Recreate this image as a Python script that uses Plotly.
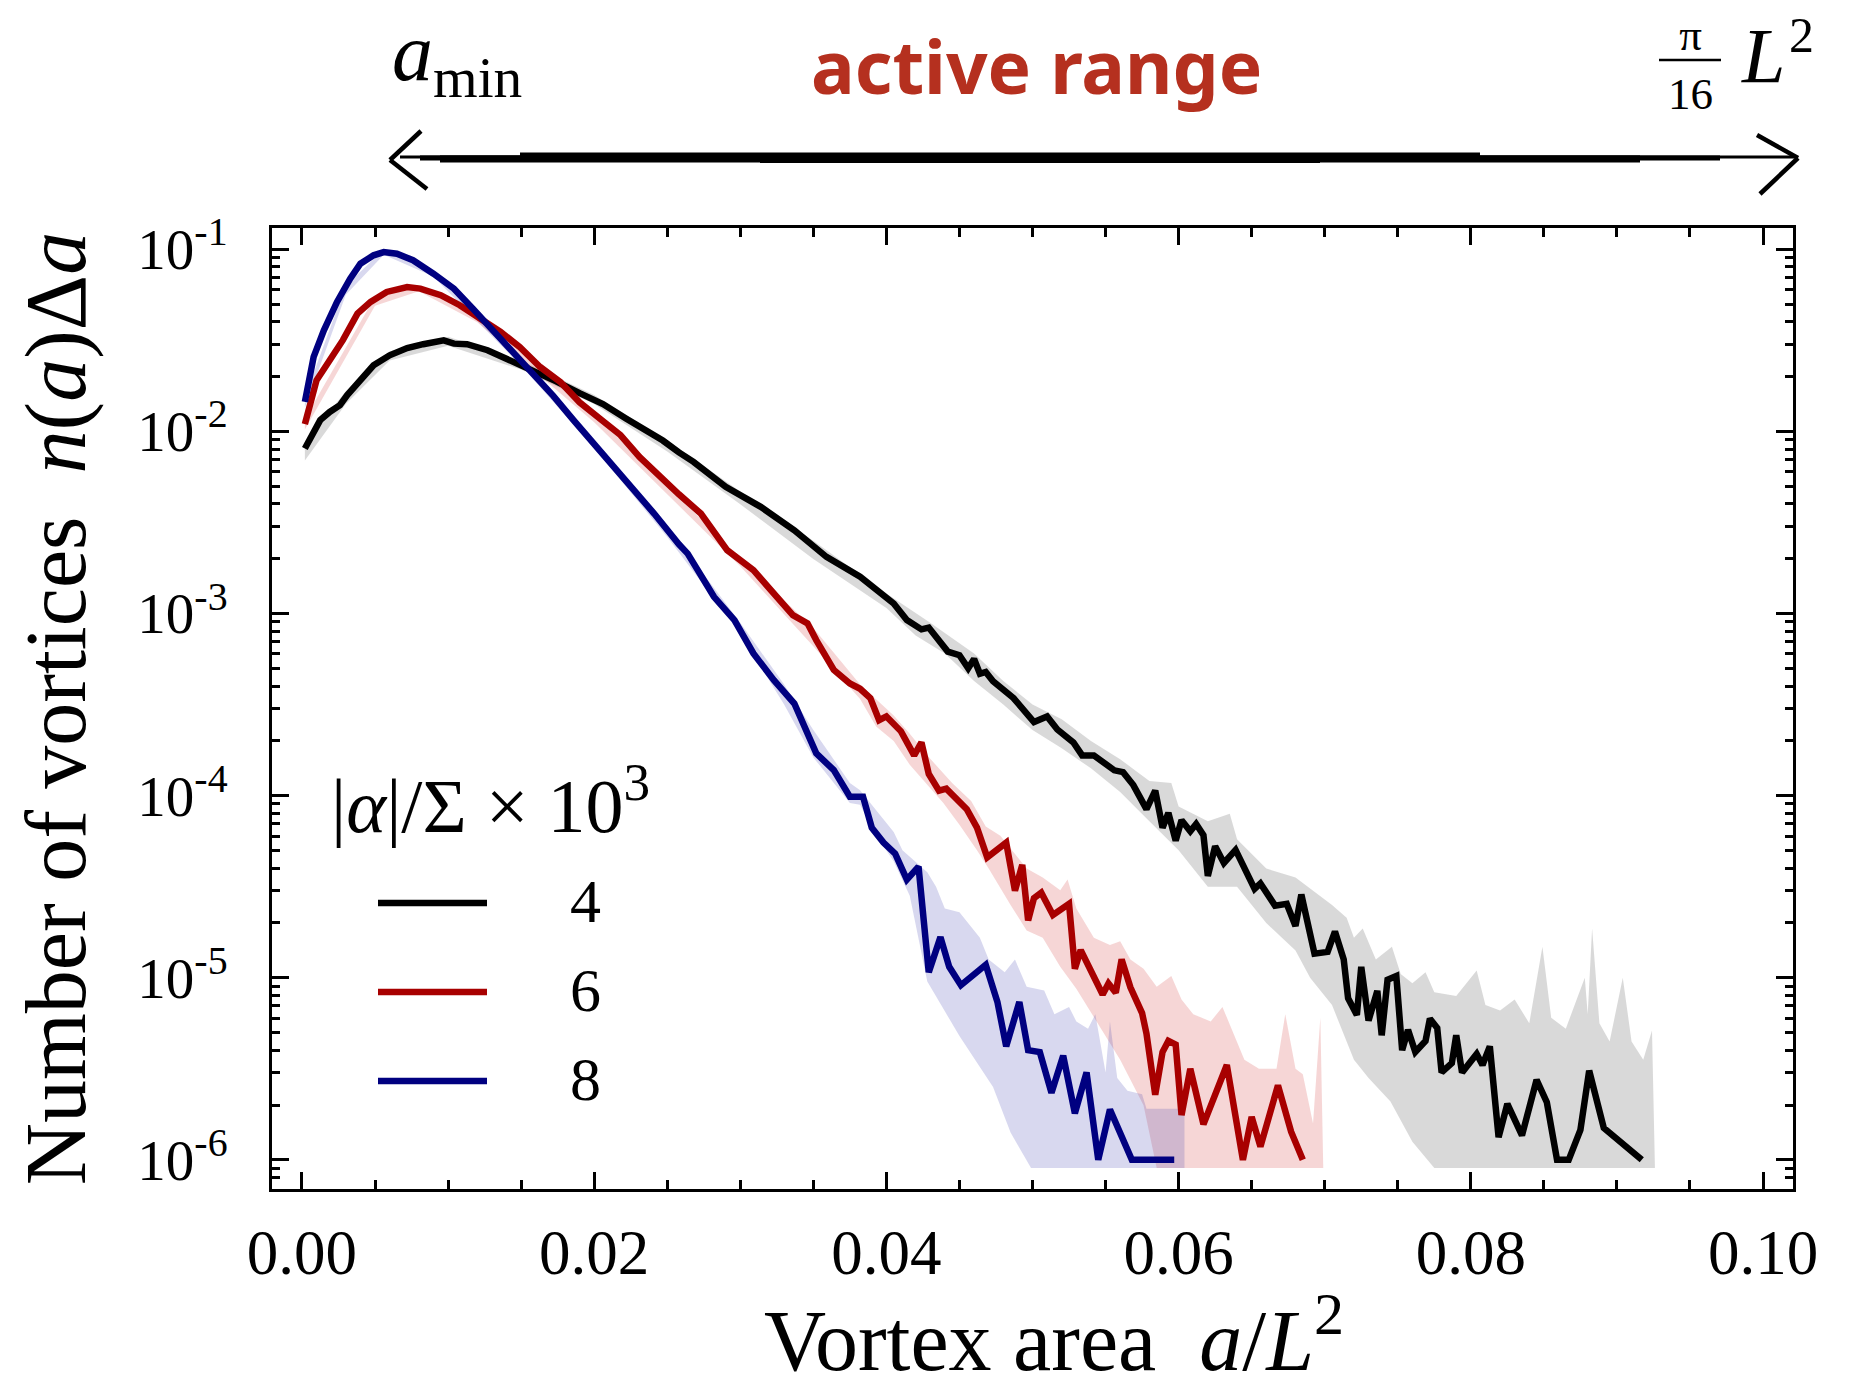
import plotly.graph_objects as go

# ---------------- data (x = a/L^2, values as log10 of n(a)Δa) ----------------
black_x = [0.0002, 0.0008, 0.00125, 0.0019, 0.0026, 0.0031, 0.004, 0.0049, 0.006, 0.0072, 0.0083, 0.0097,
           0.0104, 0.0113, 0.0127, 0.014, 0.0156, 0.0174, 0.019, 0.0206, 0.0222, 0.0236, 0.0247, 0.0258,
           0.0268, 0.029, 0.0314, 0.0337, 0.0359, 0.0382, 0.0405, 0.0414, 0.0424, 0.0429, 0.0442, 0.045,
           0.0456, 0.046, 0.0464, 0.0468, 0.0473, 0.0487, 0.0501, 0.051, 0.0517, 0.0528, 0.0534, 0.0542,
           0.0556, 0.0562, 0.0569, 0.0578, 0.0584, 0.0589, 0.0593, 0.0598, 0.0602, 0.0608, 0.0612, 0.0617,
           0.062, 0.0625, 0.0631, 0.0639, 0.0645, 0.0652, 0.0656, 0.0666, 0.0674, 0.068, 0.0684, 0.0693,
           0.0702, 0.0707, 0.0713, 0.0716, 0.0722, 0.0725, 0.073, 0.0736, 0.0739, 0.0743, 0.0749, 0.0753,
           0.0757, 0.0762, 0.0769, 0.0772, 0.0777, 0.078, 0.0787, 0.079, 0.0794, 0.0804, 0.0808, 0.0813,
           0.0819, 0.0825, 0.0835, 0.0841, 0.0845, 0.0852, 0.0859, 0.0867, 0.0875, 0.0881, 0.0891, 0.0917]
black_log10 = [-2.094, -2.012, -1.938, -1.893, -1.856, -1.80, -1.719, -1.637, -1.582, -1.542, -1.521, -1.500,
               -1.518, -1.521, -1.554, -1.600, -1.655, -1.725, -1.790, -1.850, -1.930, -1.995, -2.050, -2.115,
               -2.167, -2.304, -2.414, -2.543, -2.689, -2.798, -2.945, -3.036, -3.087, -3.077, -3.209, -3.229,
               -3.301, -3.250, -3.331, -3.321, -3.372, -3.464, -3.596, -3.565, -3.637, -3.708, -3.779, -3.779,
               -3.861, -3.871, -3.942, -4.074, -3.973, -4.176, -4.095, -4.247, -4.135, -4.196, -4.156, -4.217,
               -4.441, -4.278, -4.370, -4.298, -4.400, -4.512, -4.482, -4.604, -4.594, -4.716, -4.543, -4.868,
               -4.858, -4.746, -4.899, -5.113, -5.204, -4.940, -5.235, -5.072, -5.316, -5.011, -4.990, -5.398,
               -5.286, -5.408, -5.347, -5.225, -5.276, -5.520, -5.469, -5.316, -5.520, -5.418, -5.479, -5.377,
               -5.876, -5.693, -5.866, -5.683, -5.561, -5.683, -6.000, -6.000, -5.836, -5.510, -5.825, -6.000]

red_x = [0.0002, 0.0006, 0.001, 0.0019, 0.0028, 0.0038, 0.0047, 0.0058, 0.0072, 0.0081, 0.0095, 0.0108,
         0.0122, 0.0136, 0.0149, 0.0163, 0.0177, 0.019, 0.0204, 0.0218, 0.0231, 0.0245, 0.0258, 0.0273,
         0.0291, 0.0309, 0.0325, 0.0336, 0.0346, 0.0352, 0.0364, 0.0375, 0.0382, 0.0389, 0.0395, 0.04,
         0.041, 0.0419, 0.0424, 0.0429, 0.0436, 0.0441, 0.0455, 0.0462, 0.0469, 0.0482, 0.0488, 0.0493,
         0.0497, 0.0501, 0.0506, 0.0514, 0.0525, 0.0529, 0.0533, 0.054, 0.0548, 0.0552, 0.0557, 0.0561,
         0.0567, 0.0575, 0.0578, 0.0584, 0.0589, 0.0593, 0.0598, 0.0602, 0.0608, 0.0617, 0.0633, 0.0644,
         0.065, 0.0656, 0.0668, 0.0677, 0.0685]
red_log10 = [-1.960, -1.829, -1.719, -1.609, -1.499, -1.353, -1.289, -1.234, -1.207, -1.216, -1.252, -1.307,
             -1.381, -1.454, -1.536, -1.646, -1.730, -1.840, -1.930, -2.020, -2.140, -2.250, -2.345, -2.451,
             -2.652, -2.762, -2.908, -3.009, -3.054, -3.146, -3.310, -3.384, -3.413, -3.464, -3.586, -3.565,
             -3.647, -3.779, -3.708, -3.881, -3.973, -3.962, -4.074, -4.176, -4.339, -4.258, -4.522, -4.380,
             -4.685, -4.563, -4.533, -4.655, -4.594, -4.950, -4.848, -4.970, -5.092, -5.031, -5.082, -4.899,
             -5.052, -5.194, -5.306, -5.642, -5.408, -5.347, -5.367, -5.754, -5.500, -5.805, -5.479, -6.000,
             -5.764, -5.927, -5.591, -5.845, -6.000]

blue_x = [0.0002, 0.0008, 0.0015, 0.0024, 0.0033, 0.004, 0.0049, 0.0056, 0.0065, 0.0076, 0.009, 0.0104,
          0.0117, 0.0131, 0.0145, 0.0159, 0.0172, 0.0186, 0.02, 0.0213, 0.0227, 0.0241, 0.0258, 0.0264,
          0.0282, 0.0296, 0.0309, 0.0323, 0.0337, 0.0352, 0.0364, 0.0375, 0.0384, 0.039, 0.0398, 0.0406,
          0.0414, 0.0422, 0.0429, 0.0437, 0.0443, 0.0451, 0.0468, 0.0476, 0.0482, 0.0491, 0.0497, 0.0505,
          0.0513, 0.0521, 0.0529, 0.0537, 0.0545, 0.0553, 0.0568, 0.0597]
blue_log10 = [-1.838, -1.591, -1.445, -1.289, -1.161, -1.079, -1.033, -1.015, -1.024, -1.060, -1.134, -1.216,
              -1.326, -1.445, -1.563, -1.692, -1.805, -1.939, -2.067, -2.195, -2.323, -2.451, -2.620, -2.671,
              -2.908, -3.036, -3.219, -3.366, -3.494, -3.768, -3.860, -4.006, -4.006, -4.176, -4.258, -4.319,
              -4.461, -4.390, -4.970, -4.777, -4.940, -5.041, -4.929, -5.133, -5.377, -5.133, -5.398, -5.408,
              -5.632, -5.428, -5.744, -5.520, -6.000, -5.723, -6.000, -6.000]

# shaded fluctuation bands (upper edge left->right, lower edge right->left), log10 values
black_band_x_up = [0.0002, 0.003, 0.006, 0.01, 0.015, 0.02, 0.025, 0.03, 0.035, 0.04, 0.043, 0.046, 0.048,
                   0.050, 0.052, 0.054, 0.056, 0.058, 0.0595, 0.060, 0.062, 0.0635, 0.064, 0.066, 0.068,
                   0.0705, 0.0715, 0.072, 0.0726, 0.0735, 0.0746, 0.0752, 0.076, 0.0769, 0.0775, 0.079,
                   0.0804, 0.081, 0.082, 0.083, 0.084, 0.0849, 0.0855, 0.0865, 0.0878, 0.088, 0.0883, 0.0888,
                   0.0895, 0.0904, 0.091, 0.0918, 0.0924, 0.0926]
black_band_up = [-2.06, -1.78, -1.56, -1.48, -1.61, -1.80, -2.05, -2.33, -2.60, -2.89, -3.05, -3.22, -3.37,
                 -3.50, -3.58, -3.70, -3.80, -3.92, -3.93, -4.06, -4.14, -4.10, -4.24, -4.40, -4.45,
                 -4.60, -4.67, -4.78, -4.73, -4.90, -4.83, -4.98, -5.03, -4.97, -5.08, -5.10,
                 -4.96, -5.15, -5.18, -5.12, -5.25, -4.83, -5.22, -5.28, -5.00, -5.20, -4.73, -5.25,
                 -5.35, -5.00, -5.35, -5.45, -5.29, -6.045]
black_band_x_lo = [0.0926, 0.0775, 0.076, 0.0745, 0.073, 0.072, 0.0705, 0.069, 0.068, 0.066, 0.064, 0.062,
                   0.060, 0.058, 0.056, 0.054, 0.052, 0.050, 0.048, 0.046, 0.044, 0.042, 0.04, 0.035, 0.03,
                   0.025, 0.02, 0.015, 0.01, 0.006, 0.003, 0.0002]
black_band_lo = [-6.045, -6.045, -5.90, -5.68, -5.55, -5.45, -5.15, -5.00, -4.85, -4.70, -4.50, -4.50,
                 -4.30, -4.14, -3.98, -3.85, -3.74, -3.64, -3.50, -3.37, -3.22, -3.12, -2.97, -2.70, -2.40,
                 -2.11, -1.85, -1.66, -1.53, -1.61, -1.85, -2.16]

red_band_x_up = [0.0002, 0.005, 0.008, 0.012, 0.02, 0.03, 0.035, 0.0382, 0.0405, 0.0416, 0.0428, 0.0436,
                 0.0445, 0.0458, 0.0468, 0.0478, 0.0488, 0.0496, 0.0507, 0.0519, 0.0524, 0.053, 0.0542,
                 0.0553, 0.0560, 0.0567, 0.0576, 0.0585, 0.0595, 0.0602, 0.061, 0.0622, 0.063, 0.0638,
                 0.0645, 0.0655, 0.0667, 0.0673, 0.068, 0.0685, 0.0692, 0.0697, 0.0699]
red_band_up = [-1.93, -1.26, -1.20, -1.36, -1.89, -2.70, -3.08, -3.39, -3.56, -3.66, -3.78, -3.85,
               -3.93, -4.03, -4.17, -4.22, -4.32, -4.40, -4.45, -4.52, -4.46, -4.62, -4.78,
               -4.82, -4.80, -4.90, -4.95, -5.05, -4.99, -5.12, -5.20, -5.24, -5.16, -5.32,
               -5.45, -5.50, -5.50, -5.20, -5.50, -5.53, -5.80, -5.22, -6.045]
red_band_x_lo = [0.0699, 0.0585, 0.0576, 0.0560, 0.0542, 0.0530, 0.0519, 0.0507, 0.0496, 0.0485, 0.047,
                 0.0462, 0.045, 0.0439, 0.0428, 0.0416, 0.0405, 0.0393, 0.0382, 0.035, 0.03, 0.02, 0.012,
                 0.008, 0.005, 0.0002]
red_band_lo = [-6.045, -6.045, -5.70, -5.45, -5.22, -5.06, -4.94, -4.78, -4.74, -4.60, -4.40,
               -4.30, -4.16, -4.04, -3.94, -3.83, -3.70, -3.62, -3.47, -3.18, -2.74, -1.95, -1.40,
               -1.23, -1.31, -1.99]

blue_band_x_up = [0.0002, 0.003, 0.0056, 0.009, 0.015, 0.02, 0.025, 0.03, 0.033, 0.035, 0.0375, 0.0382,
                  0.0393, 0.0405, 0.0411, 0.0428, 0.0434, 0.044, 0.045, 0.0458, 0.0464, 0.047, 0.0481,
                  0.0488, 0.0496, 0.0508, 0.0515, 0.0525, 0.053, 0.0538, 0.0543, 0.055, 0.0553, 0.0558,
                  0.0565, 0.0575, 0.0578, 0.0604, 0.0604]
blue_band_up = [-1.81, -1.20, -1.00, -1.12, -1.60, -2.05, -2.52, -3.05, -3.39, -3.64, -3.93, -3.97,
                -4.08, -4.20, -4.30, -4.42, -4.50, -4.62, -4.64, -4.72, -4.78, -4.90, -4.97,
                -4.90, -5.05, -5.07, -5.20, -5.16, -5.24, -5.28, -5.20, -5.52, -5.24, -5.55,
                -5.62, -5.64, -5.72, -5.72, -6.045]
blue_band_x_lo = [0.0604, 0.0499, 0.0485, 0.0473, 0.045, 0.0428, 0.0416, 0.0405, 0.0393, 0.0382, 0.0375,
                  0.035, 0.033, 0.03, 0.025, 0.02, 0.015, 0.009, 0.0056, 0.003, 0.0002]
blue_band_lo = [-6.045, -6.045, -5.85, -5.60, -5.32, -5.02, -4.55, -4.36, -4.22, -4.05, -4.04,
                -3.79, -3.50, -3.11, -2.58, -2.09, -1.64, -1.15, -1.03, -1.25, -1.87]

series_names = ["4", "6", "8"]
x_tick_vals = [0.00, 0.02, 0.04, 0.06, 0.08, 0.10]
x_tick_text = ["0.00", "0.02", "0.04", "0.06", "0.08", "0.10"]
y_tick_vals = [1e-6, 1e-5, 1e-4, 1e-3, 1e-2, 1e-1]
y_tick_text = ["10<sup>-6</sup>", "10<sup>-5</sup>", "10<sup>-4</sup>", "10<sup>-3</sup>",
               "10<sup>-2</sup>", "10<sup>-1</sup>"]

# ---------------- styling ----------------
LINE_COLORS = ["#000000", "#a80000", "#000080"]
BAND_COLORS = ["rgba(120,120,120,0.28)", "rgba(215,70,70,0.22)", "rgba(60,60,175,0.20)"]
SERIF = "Liberation Serif, Times New Roman, serif"

OFF = 8  # page offset of the plot div inside the browser window
W, H = 1861 - OFF, 1389 - OFF
ML, MR, MT, MB = 272 - OFF, 68, 228 - OFF, 200
PW, PH = W - ML - MR, H - MT - MB


def px(xp):
    """window pixel x -> paper coordinate"""
    return (xp - OFF - ML) / PW


def py(yp):
    """window pixel y -> paper coordinate"""
    return (H - MB - (yp - OFF)) / PH


def pow10(vals):
    return [10 ** v for v in vals]


fig = go.Figure()

bands = [
    (black_band_x_up, black_band_up, black_band_x_lo, black_band_lo),
    (red_band_x_up, red_band_up, red_band_x_lo, red_band_lo),
    (blue_band_x_up, blue_band_up, blue_band_x_lo, blue_band_lo),
]
for (xu, yu, xl, yl), col in zip(bands, BAND_COLORS):
    fig.add_trace(go.Scatter(x=xu + xl, y=pow10(yu + yl), mode="lines", fill="toself",
                             fillcolor=col, line=dict(width=0, color=col), hoverinfo="skip",
                             showlegend=False))

lines = [(black_x, black_log10), (red_x, red_log10), (blue_x, blue_log10)]
for (xs, ys), col, name in zip(lines, LINE_COLORS, series_names):
    fig.add_trace(go.Scatter(x=xs, y=pow10(ys), mode="lines", name=name,
                             line=dict(color=col, width=6.5, shape="linear"), showlegend=False))

y_minor = []
for e in range(-7, 0):
    for k in range(2, 10):
        v = k * 10 ** e
        if 10 ** -6.16 < v < 10 ** -0.883:
            y_minor.append(v)

axis_common = dict(showline=True, linecolor="black", linewidth=3, mirror="allticks",
                   ticks="inside", tickcolor="black", tickwidth=2.5, showgrid=False, zeroline=False)

fig.update_layout(
    width=W, height=H,
    margin=dict(l=ML, r=MR, t=MT, b=MB, autoexpand=False),
    paper_bgcolor="white", plot_bgcolor="white",
    showlegend=False,
    xaxis=dict(range=[-0.00205, 0.10205], tickmode="array", tickvals=x_tick_vals, ticktext=x_tick_text,
               ticklen=17, ticklabelstandoff=6,
               tickfont=dict(family=SERIF, size=63, color="black"),
               minor=dict(ticks="inside", ticklen=9, tickwidth=2.5, tickcolor="black", dtick=0.005, tick0=0),
               title=dict(text="&nbsp;&nbsp;Vortex area&nbsp;&nbsp;<i>a</i>/<i>L</i><sup>2</sup>",
                          font=dict(family=SERIF, size=86, color="black"), standoff=22),
               **axis_common),
    yaxis=dict(type="log", range=[-6.16, -0.883], tickmode="array", tickvals=y_tick_vals,
               ticktext=y_tick_text, ticklen=17, ticklabelstandoff=30,
               tickfont=dict(family=SERIF, size=57, color="black"),
               minor=dict(ticks="inside", ticklen=8, tickwidth=2.5, tickcolor="black", tickmode="array",
                          tickvals=y_minor),
               title=dict(text="Number of vortices&nbsp;&nbsp;<i>n</i>(<i>a</i>)Δ<i>a</i>",
                          font=dict(family=SERIF, size=86, color="black"), standoff=40),
               **axis_common),
)

ann = []
shapes = []
# legend (drawn by hand to match the long line samples)
ann.append(dict(x=px(490), y=py(800), text="|<i>α</i>|/Σ × 10<sup>3</sup>", showarrow=False,
                xref="paper", yref="paper", xanchor="center", yanchor="middle",
                font=dict(family=SERIF, size=76, color="black")))
legend_rows = [903, 992, 1081]
for yy, col, name in zip(legend_rows, LINE_COLORS, series_names):
    shapes.append(dict(type="line", xref="paper", yref="paper", x0=px(378), x1=px(487), y0=py(yy), y1=py(yy),
                       line=dict(color=col, width=6.5)))
    ann.append(dict(x=px(585), y=py(yy - 2), text=name, showarrow=False, xref="paper", yref="paper",
                    xanchor="center", yanchor="middle", font=dict(family=SERIF, size=62, color="black")))

# top annotation: active range
ann.append(dict(x=px(390), y=py(58), text="<i>a</i><sub>min</sub>", showarrow=False, xref="paper", yref="paper",
                xanchor="left", yanchor="middle", font=dict(family=SERIF, size=82, color="black")))
ann.append(dict(x=px(1036), y=py(66), text="<b>active range</b>", showarrow=False, xref="paper",
                yref="paper", xanchor="center", yanchor="middle",
                font=dict(family="Noto Sans", size=73, color="#b5301f")))
# fraction pi/16 (numerator and denominator stacked, bar drawn as a shape)
ann.append(dict(x=px(1690), y=py(64), text="π<br>16", showarrow=False, xref="paper", yref="paper",
                xanchor="center", yanchor="middle", borderpad=0, align="center",
                font=dict(family=SERIF, size=45, color="black")))
shapes.append(dict(type="line", xref="paper", yref="paper", x0=px(1659), x1=px(1721), y0=py(60), y1=py(60),
                   line=dict(color="black", width=2.5)))
ann.append(dict(x=px(1740), y=py(56), text="<i>L</i>", showarrow=False, xref="paper", yref="paper",
                xanchor="left", yanchor="middle", borderpad=0,
                font=dict(family=SERIF, size=78, color="black")))
ann.append(dict(x=px(1788), y=py(6), text="2", showarrow=False, xref="paper", yref="paper",
                xanchor="left", yanchor="top", borderpad=0,
                font=dict(family=SERIF, size=50, color="black")))

# sketchy double-headed arrow
strokes = [((400, 157), (1794, 157), 3), ((440, 159), (1640, 159), 7), ((520, 155), (1480, 155), 5),
           ((760, 161), (1320, 161), 4), ((420, 158), (1720, 158), 5)]
for (a, b, w) in strokes:
    shapes.append(dict(type="line", xref="paper", yref="paper", x0=px(a[0]), y0=py(a[1]), x1=px(b[0]),
                       y1=py(b[1]), line=dict(color="black", width=w)))
for (a, b) in [((421, 131), (390, 160)), ((390, 160), (427, 189)), ((1757, 135), (1798, 158)),
               ((1798, 158), (1760, 194))]:
    shapes.append(dict(type="line", xref="paper", yref="paper", x0=px(a[0]), y0=py(a[1]), x1=px(b[0]),
                       y1=py(b[1]), line=dict(color="black", width=4.5)))

fig.update_layout(annotations=ann, shapes=shapes)
fig.write_html("out.html")
